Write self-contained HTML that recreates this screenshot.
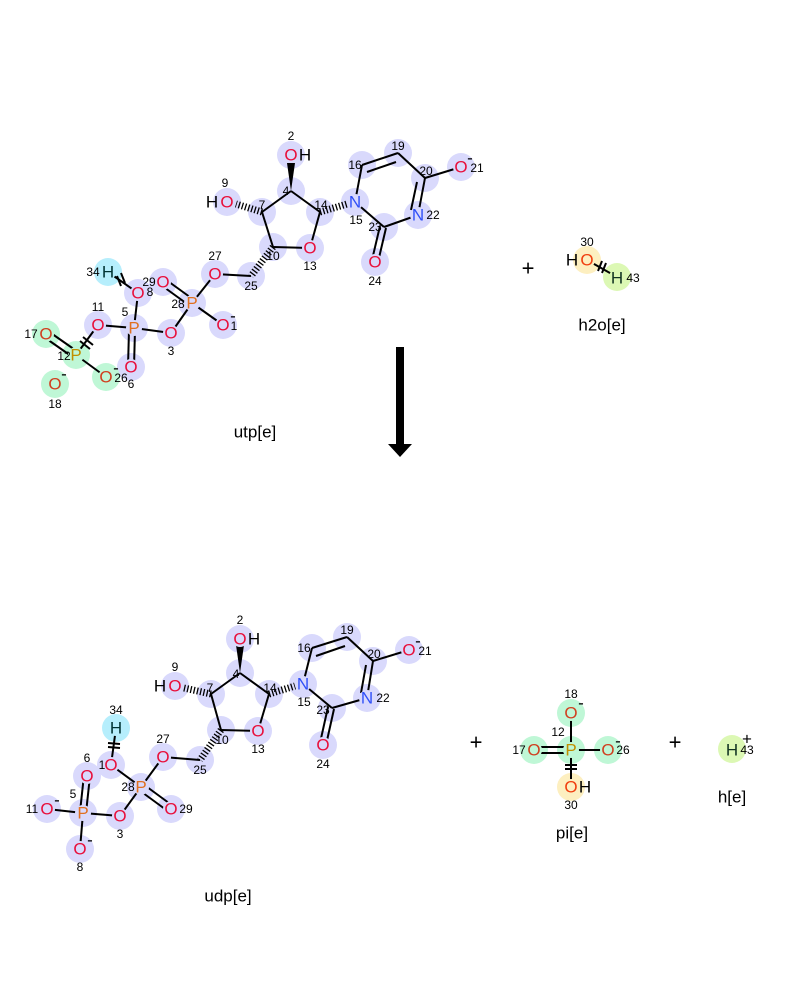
<!DOCTYPE html>
<html><head><meta charset="utf-8"><style>
html,body{margin:0;padding:0;background:#fff}
svg{display:block}
text{font-family:"Liberation Sans","DejaVu Sans",sans-serif}
.a{font-size:17px;text-anchor:middle;dominant-baseline:central}
.O{fill:#e8103c}.N{fill:#3050f8}.P{fill:#e07020}.Pg{fill:#c09000}.Og{fill:#d04020}.H{fill:#000}
.n{font-size:12px;text-anchor:middle;dominant-baseline:central;fill:#000}
.t{font-size:17px;text-anchor:middle;dominant-baseline:central;fill:#000}
.b line{stroke:#000;stroke-width:2}
.h{stroke:#000;stroke-width:7;stroke-dasharray:1.3,2}
</style></head><body>
<svg width="800" height="1000" viewBox="0 0 800 1000" xmlns="http://www.w3.org/2000/svg">
<!-- ===== TOP: utp ===== -->
<g fill="#d9d9fc">
<circle cx="291" cy="155" r="14"/><circle cx="291" cy="191" r="14"/><circle cx="262" cy="212" r="14"/><circle cx="227" cy="202" r="14"/>
<circle cx="320" cy="212" r="14"/><circle cx="355" cy="202" r="14"/><circle cx="362" cy="165" r="14"/><circle cx="398" cy="153" r="14"/>
<circle cx="425" cy="178" r="14"/><circle cx="461" cy="167" r="14"/><circle cx="418" cy="215" r="14"/><circle cx="384" cy="227" r="14"/>
<circle cx="375" cy="262" r="14"/><circle cx="273" cy="247" r="14"/><circle cx="310" cy="248" r="14"/><circle cx="251" cy="276" r="14"/>
<circle cx="215" cy="274" r="14"/><circle cx="192" cy="303" r="14"/><circle cx="163" cy="282" r="14"/><circle cx="223" cy="325" r="14"/>
<circle cx="171" cy="333" r="14"/><circle cx="134" cy="328" r="14"/><circle cx="138" cy="293" r="14"/><circle cx="131" cy="367" r="14"/>
<circle cx="98" cy="325" r="14"/>
</g>
<g fill="#bff7d6"><circle cx="76" cy="355" r="14"/><circle cx="46" cy="334" r="14"/><circle cx="106" cy="377" r="14"/><circle cx="55" cy="384" r="14"/></g>
<circle cx="108" cy="272" r="14" fill="#b6eefc"/>
<g class="b">
<line x1="291" y1="191" x2="262" y2="212"/><line x1="291" y1="191" x2="320" y2="212"/>
<line x1="262" y1="212" x2="273" y2="247"/><line x1="273" y1="247" x2="310" y2="248"/><line x1="310" y1="248" x2="320" y2="212"/>
<line x1="355" y1="202" x2="362" y2="165"/><line x1="362" y1="165" x2="398" y2="153"/><line x1="367" y1="172" x2="396" y2="162"/>
<line x1="398" y1="153" x2="425" y2="178"/><line x1="425" y1="178" x2="461" y2="167"/>
<line x1="425" y1="178" x2="418" y2="215"/><line x1="417" y1="182" x2="411" y2="210"/>
<line x1="418" y1="215" x2="384" y2="227"/><line x1="384" y1="227" x2="355" y2="202"/>
<line x1="386" y1="228" x2="378" y2="262"/><line x1="380" y1="226" x2="372" y2="260"/>
<line x1="251" y1="276" x2="215" y2="274"/><line x1="215" y1="274" x2="192" y2="303"/>
<line x1="192" y1="303" x2="223" y2="325"/><line x1="192" y1="303" x2="171" y2="333"/>
<line x1="194" y1="300" x2="165" y2="279"/><line x1="190" y1="306" x2="161" y2="285"/>
<line x1="171" y1="333" x2="134" y2="328"/><line x1="134" y1="328" x2="138" y2="293"/>
<line x1="138" y1="293" x2="108" y2="272"/>
<line x1="135" y1="330" x2="134" y2="367"/><line x1="129" y1="330" x2="128" y2="367"/>
<line x1="134" y1="328" x2="98" y2="325"/><line x1="98" y1="325" x2="76" y2="355"/>
<line x1="78" y1="352" x2="48" y2="331"/><line x1="74" y1="358" x2="44" y2="337"/>
<line x1="76" y1="355" x2="106" y2="377"/>
<line x1="117" y1="276" x2="121" y2="286"/><line x1="121" y1="273" x2="125" y2="283"/>
<line x1="80" y1="341" x2="90" y2="349"/><line x1="83" y1="337" x2="93" y2="345"/>
</g>
<polygon points="291,191 287,163 295,163" fill="#000"/>
<line x1="262" y1="212" x2="236" y2="204" class="h"/>
<line x1="320" y1="212" x2="347" y2="204" class="h"/>
<line x1="273" y1="247" x2="251" y2="276" class="h"/>
<!-- covers -->
<g fill="#d9d9fc">
<circle cx="291" cy="155" r="8"/><circle cx="227" cy="202" r="8"/><circle cx="355" cy="202" r="8"/><circle cx="461" cy="167" r="8"/>
<circle cx="418" cy="215" r="8"/><circle cx="375" cy="262" r="8"/><circle cx="310" cy="248" r="8"/><circle cx="215" cy="274" r="8"/>
<circle cx="192" cy="303" r="8"/><circle cx="163" cy="282" r="8"/><circle cx="223" cy="325" r="8"/><circle cx="171" cy="333" r="8"/>
<circle cx="134" cy="328" r="8"/><circle cx="138" cy="293" r="8"/><circle cx="131" cy="367" r="8"/><circle cx="98" cy="325" r="8"/>
</g>
<g fill="#bff7d6"><circle cx="76" cy="355" r="8"/><circle cx="46" cy="334" r="8"/><circle cx="106" cy="377" r="8"/></g>
<circle cx="108" cy="272" r="8" fill="#b6eefc"/>
<text x="291" y="155" class="a O">O</text><text x="305" y="155" class="t">H</text><text x="291" y="136" class="n">2</text>
<text x="286" y="191" class="n">4</text><text x="262" y="205" class="n">7</text>
<text x="227" y="202" class="a O">O</text><text x="212" y="202" class="t">H</text><text x="225" y="183" class="n">9</text>
<text x="321" y="205" class="n">14</text>
<text x="355" y="202" class="a N">N</text><text x="356" y="220" class="n">15</text>
<text x="355" y="165" class="n">16</text><text x="398" y="146" class="n">19</text><text x="426" y="171" class="n">20</text>
<text x="461" y="167" class="a O">O</text><text x="470" y="158" class="t">-</text><text x="477" y="168" class="n">21</text>
<text x="418" y="215" class="a N">N</text><text x="433" y="215" class="n">22</text>
<text x="375" y="227" class="n">23</text>
<text x="375" y="262" class="a O">O</text><text x="375" y="281" class="n">24</text>
<text x="273" y="256" class="n">10</text>
<text x="310" y="248" class="a O">O</text><text x="310" y="266" class="n">13</text>
<text x="251" y="286" class="n">25</text>
<text x="215" y="274" class="a O">O</text><text x="215" y="256" class="n">27</text>
<text x="192" y="303" class="a P">P</text><text x="178" y="304" class="n">28</text>
<text x="163" y="282" class="a O">O</text><text x="149" y="282" class="n">29</text>
<text x="223" y="325" class="a O">O</text><text x="233" y="316" class="t">-</text><text x="234" y="326" class="n">1</text>
<text x="171" y="333" class="a O">O</text><text x="171" y="351" class="n">3</text>
<text x="134" y="328" class="a P">P</text><text x="125" y="312" class="n">5</text>
<text x="138" y="293" class="a O">O</text><text x="150" y="292" class="n">8</text>
<text x="108" y="272" class="a H" style="fill:#033">H</text><text x="93" y="272" class="n">34</text>
<text x="131" y="367" class="a O">O</text><text x="131" y="384" class="n">6</text>
<text x="98" y="325" class="a O">O</text><text x="98" y="307" class="n">11</text>
<text x="76" y="355" class="a Pg">P</text><text x="64" y="356" class="n">12</text>
<text x="46" y="334" class="a Og">O</text><text x="31" y="334" class="n">17</text>
<text x="106" y="377" class="a Og">O</text><text x="116" y="368" class="t">-</text><text x="121" y="378" class="n">26</text>
<text x="55" y="384" class="a Og">O</text><text x="64" y="374" class="t">-</text><text x="55" y="404" class="n">18</text>
<text x="255" y="432" class="t">utp[e]</text>

<!-- h2o -->
<text x="528" y="268" class="t" style="font-size:22px">+</text>
<circle cx="587" cy="260" r="14" fill="#fdefc0"/><circle cx="617" cy="277" r="14" fill="#dcf8b4"/>
<g class="b"><line x1="587" y1="260" x2="617" y2="277"/><line x1="598" y1="271" x2="602" y2="261"/><line x1="602" y1="273" x2="606" y2="263"/></g>
<circle cx="587" cy="260" r="8" fill="#fdefc0"/><circle cx="617" cy="277" r="8" fill="#dcf8b4"/>
<text x="587" y="260" class="a" style="fill:#f04010">O</text><text x="572" y="260" class="t">H</text><text x="587" y="242" class="n">30</text>
<text x="617" y="278" class="a" style="fill:#132">H</text><text x="633" y="278" class="n">43</text>
<text x="602" y="325" class="t">h2o[e]</text>

<!-- arrow -->
<rect x="396" y="347" width="8" height="98" fill="#000"/>
<polygon points="388,444 412,444 400,457" fill="#000"/>

<!-- ===== BOTTOM: udp ===== -->
<g fill="#d9d9fc">
<circle cx="240" cy="639" r="14"/><circle cx="240" cy="673" r="14"/><circle cx="211" cy="694" r="14"/><circle cx="175" cy="686" r="14"/>
<circle cx="269" cy="694" r="14"/><circle cx="303" cy="684" r="14"/><circle cx="312" cy="648" r="14"/><circle cx="347" cy="637" r="14"/>
<circle cx="373" cy="661" r="14"/><circle cx="409" cy="650" r="14"/><circle cx="367" cy="698" r="14"/><circle cx="332" cy="708" r="14"/>
<circle cx="323" cy="745" r="14"/><circle cx="221" cy="730" r="14"/><circle cx="258" cy="731" r="14"/><circle cx="200" cy="760" r="14"/>
<circle cx="163" cy="757" r="14"/><circle cx="141" cy="787" r="14"/><circle cx="171" cy="809" r="14"/><circle cx="111" cy="765" r="14"/>
<circle cx="87" cy="776" r="14"/><circle cx="83" cy="813" r="14"/><circle cx="47" cy="809" r="14"/><circle cx="120" cy="816" r="14"/>
<circle cx="80" cy="849" r="14"/>
</g>
<circle cx="116" cy="728" r="14" fill="#b6eefc"/>
<g class="b">
<line x1="240" y1="673" x2="211" y2="694"/><line x1="240" y1="673" x2="269" y2="694"/>
<line x1="211" y1="694" x2="221" y2="730"/><line x1="221" y1="730" x2="258" y2="731"/><line x1="258" y1="731" x2="269" y2="694"/>
<line x1="303" y1="684" x2="312" y2="648"/><line x1="312" y1="648" x2="347" y2="637"/><line x1="316" y1="656" x2="345" y2="646"/>
<line x1="347" y1="637" x2="373" y2="661"/><line x1="373" y1="661" x2="409" y2="650"/>
<line x1="373" y1="661" x2="367" y2="698"/><line x1="366" y1="665" x2="361" y2="693"/>
<line x1="367" y1="698" x2="332" y2="708"/><line x1="332" y1="708" x2="303" y2="684"/>
<line x1="334" y1="709" x2="326" y2="745"/><line x1="328" y1="707" x2="320" y2="743"/>
<line x1="200" y1="760" x2="163" y2="757"/><line x1="163" y1="757" x2="141" y2="787"/>
<line x1="141" y1="787" x2="111" y2="765"/><line x1="111" y1="765" x2="116" y2="728"/>
<line x1="143" y1="784" x2="173" y2="806"/><line x1="139" y1="790" x2="169" y2="812"/>
<line x1="141" y1="787" x2="120" y2="816"/><line x1="120" y1="816" x2="83" y2="813"/>
<line x1="86" y1="813" x2="90" y2="776"/><line x1="80" y1="812" x2="84" y2="775"/>
<line x1="83" y1="813" x2="47" y2="809"/><line x1="83" y1="813" x2="80" y2="849"/>
<line x1="108" y1="743" x2="120" y2="744"/><line x1="108" y1="747" x2="120" y2="748"/>
</g>
<polygon points="240,673 236,645 244,645" fill="#000"/>
<line x1="211" y1="694" x2="184" y2="688" class="h"/>
<line x1="269" y1="694" x2="295" y2="686" class="h"/>
<line x1="221" y1="730" x2="200" y2="760" class="h"/>
<g fill="#d9d9fc">
<circle cx="240" cy="639" r="8"/><circle cx="175" cy="686" r="8"/><circle cx="303" cy="684" r="8"/><circle cx="409" cy="650" r="8"/>
<circle cx="367" cy="698" r="8"/><circle cx="323" cy="745" r="8"/><circle cx="258" cy="731" r="8"/><circle cx="163" cy="757" r="8"/>
<circle cx="141" cy="787" r="8"/><circle cx="171" cy="809" r="8"/><circle cx="111" cy="765" r="8"/><circle cx="87" cy="776" r="8"/>
<circle cx="83" cy="813" r="8"/><circle cx="47" cy="809" r="8"/><circle cx="120" cy="816" r="8"/><circle cx="80" cy="849" r="8"/>
</g>
<circle cx="116" cy="728" r="8" fill="#b6eefc"/>
<text x="240" y="639" class="a O">O</text><text x="254" y="639" class="t">H</text><text x="240" y="620" class="n">2</text>
<text x="236" y="674" class="n">4</text><text x="210" y="688" class="n">7</text>
<text x="175" y="686" class="a O">O</text><text x="160" y="686" class="t">H</text><text x="175" y="667" class="n">9</text>
<text x="270" y="688" class="n">14</text>
<text x="303" y="684" class="a N">N</text><text x="304" y="702" class="n">15</text>
<text x="304" y="648" class="n">16</text><text x="347" y="630" class="n">19</text><text x="374" y="654" class="n">20</text>
<text x="409" y="650" class="a O">O</text><text x="418" y="641" class="t">-</text><text x="425" y="651" class="n">21</text>
<text x="367" y="698" class="a N">N</text><text x="383" y="698" class="n">22</text>
<text x="323" y="710" class="n">23</text>
<text x="323" y="745" class="a O">O</text><text x="323" y="764" class="n">24</text>
<text x="222" y="740" class="n">10</text>
<text x="258" y="731" class="a O">O</text><text x="258" y="749" class="n">13</text>
<text x="200" y="770" class="n">25</text>
<text x="163" y="757" class="a O">O</text><text x="163" y="739" class="n">27</text>
<text x="141" y="787" class="a P">P</text><text x="128" y="787" class="n">28</text>
<text x="171" y="809" class="a O">O</text><text x="186" y="809" class="n">29</text>
<text x="111" y="765" class="a O">O</text><text x="102" y="765" class="n">1</text>
<text x="116" y="728" class="a" style="fill:#033">H</text><text x="116" y="710" class="n">34</text>
<text x="87" y="776" class="a O">O</text><text x="87" y="758" class="n">6</text>
<text x="83" y="813" class="a P">P</text><text x="73" y="794" class="n">5</text>
<text x="47" y="809" class="a O">O</text><text x="57" y="800" class="t">-</text><text x="32" y="809" class="n">11</text>
<text x="120" y="816" class="a O">O</text><text x="120" y="834" class="n">3</text>
<text x="80" y="849" class="a O">O</text><text x="90" y="840" class="t">-</text><text x="80" y="867" class="n">8</text>
<text x="228" y="896" class="t">udp[e]</text>

<!-- pi -->
<text x="476" y="742" class="t" style="font-size:22px">+</text>
<g fill="#bff7d6"><circle cx="571" cy="713" r="14"/><circle cx="571" cy="750" r="14"/><circle cx="534" cy="750" r="14"/><circle cx="608" cy="750" r="14"/></g>
<circle cx="571" cy="787" r="14" fill="#fdefc0"/>
<g class="b">
<line x1="571" y1="713" x2="571" y2="787"/><line x1="571" y1="750" x2="608" y2="750"/>
<line x1="534" y1="747" x2="571" y2="747"/><line x1="534" y1="753" x2="571" y2="753"/>
<line x1="565" y1="765" x2="577" y2="765"/><line x1="565" y1="769" x2="577" y2="769"/>
</g>
<g fill="#bff7d6"><circle cx="571" cy="713" r="8"/><circle cx="571" cy="750" r="8"/><circle cx="534" cy="750" r="8"/><circle cx="608" cy="750" r="8"/></g>
<circle cx="571" cy="787" r="8" fill="#fdefc0"/>
<text x="571" y="713" class="a Og">O</text><text x="581" y="703" class="t">-</text><text x="571" y="694" class="n">18</text>
<text x="571" y="750" class="a Pg">P</text><text x="558" y="732" class="n">12</text>
<text x="534" y="750" class="a Og">O</text><text x="519" y="750" class="n">17</text>
<text x="608" y="750" class="a Og">O</text><text x="618" y="741" class="t">-</text><text x="623" y="750" class="n">26</text>
<text x="571" y="787" class="a" style="fill:#f04010">O</text><text x="585" y="787" class="t">H</text><text x="571" y="805" class="n">30</text>
<text x="572" y="833" class="t">pi[e]</text>

<!-- h -->
<text x="675" y="742" class="t" style="font-size:22px">+</text>
<circle cx="732" cy="749" r="14" fill="#dcf8b4"/>
<text x="732" y="750" class="a" style="fill:#132">H</text><text x="747" y="739" class="t">+</text><text x="747" y="750" class="n">43</text>
<text x="732" y="797" class="t">h[e]</text>
</svg>
</body></html>
